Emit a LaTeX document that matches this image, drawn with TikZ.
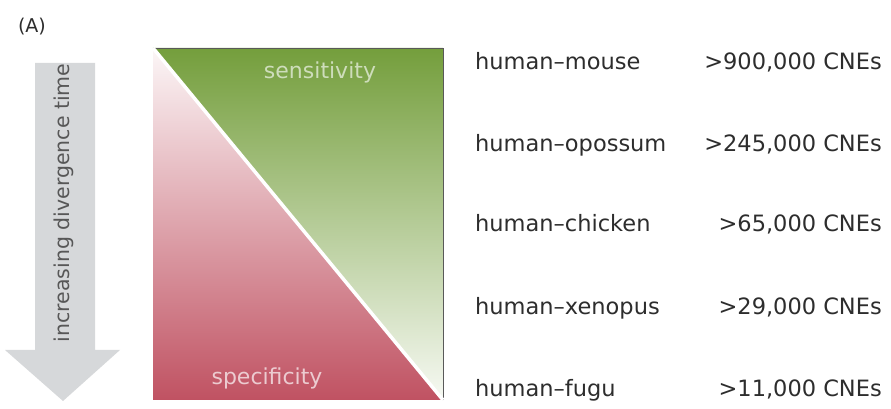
\documentclass[tikz,border=0pt]{standalone}
\usepackage{fontspec}
\setmainfont{DejaVu Sans}
\usepackage{tikz}
\usetikzlibrary{positioning, calc}
\definecolor{leafgreen}{RGB}{116, 158, 60}
\definecolor{rosered}{RGB}{192, 82, 98}
\definecolor{arrowgray}{RGB}{214, 216, 218}
\definecolor{labelgray}{RGB}{45, 45, 45}

\begin{document}
\begin{tikzpicture}[
    x=1pt, y=1pt,
    pairlabel/.style={anchor=base west, inner sep=0pt, font=\fontsize{22.5}{26}\selectfont, text=labelgray},
    cnecount/.style={anchor=base east, inner sep=0pt, font=\fontsize{22.5}{26}\selectfont, text=labelgray},
    trilabel/.style={inner sep=0pt, font=\fontsize{22}{26}\selectfont}
]
\path[use as bounding box] (0,0) rectangle (891,409);

% Panel letter
\node[font=\fontsize{19}{22}\selectfont, text=labelgray] (panel) at (32,382) {(A)};

% Divergence arrow
\fill[arrowgray] (35,346) -- (95,346) -- (95,59) -- (120,59) -- (63,8) -- (5,59) -- (35,59) -- cycle;
\node[rotate=90, font=\fontsize{20.5}{24}\selectfont, text=labelgray!80] (divtime) at (64,206) {increasing divergence time};

% Sensitivity / specificity square
\coordinate (tl) at (153,361);
\coordinate (tr) at (443,361);
\coordinate (br) at (443,9);
\coordinate (bl) at (153,9);

\shade[top color=leafgreen, middle color=leafgreen!75!white, bottom color=leafgreen!6!white] (tl) -- (tr) -- (br) -- cycle;
\shade[top color=rosered!5!white, middle color=rosered!55!white, bottom color=rosered] (tl) -- (bl) -- (br) -- cycle;
\draw[gray!70!black, line width=0.6pt] (tl) -- (tr) -- (br);
\draw[gray!80!black, line width=0.5pt, shift={(2.6,2.2)}] (tl) -- (br);
\draw[white, line width=3.5pt] (tl) -- (br);

\node[trilabel, text=leafgreen!35!white] (sens) at (320,337) {sensitivity};
\node[trilabel, text=rosered!30!white] (spec) at (267,31) {specificity};

% Species pairs
\node[pairlabel] (mouse) at (475,339) {human–mouse};
\node[pairlabel] (opossum) at (475,257) {human–opossum};
\node[pairlabel] (chicken) at (475,177) {human–chicken};
\node[pairlabel] (xenopus) at (475,94) {human–xenopus};
\node[pairlabel] (fugu) at (475,12) {human–fugu};

% CNE counts
\node[cnecount] (nmouse) at (882,339) {>900,000 CNEs};
\node[cnecount] (nopossum) at (882,257) {>245,000 CNEs};
\node[cnecount] (nchicken) at (882,177) {>65,000 CNEs};
\node[cnecount] (nxenopus) at (882,94) {>29,000 CNEs};
\node[cnecount] (nfugu) at (882,12) {>11,000 CNEs};

\end{tikzpicture}
\end{document}
